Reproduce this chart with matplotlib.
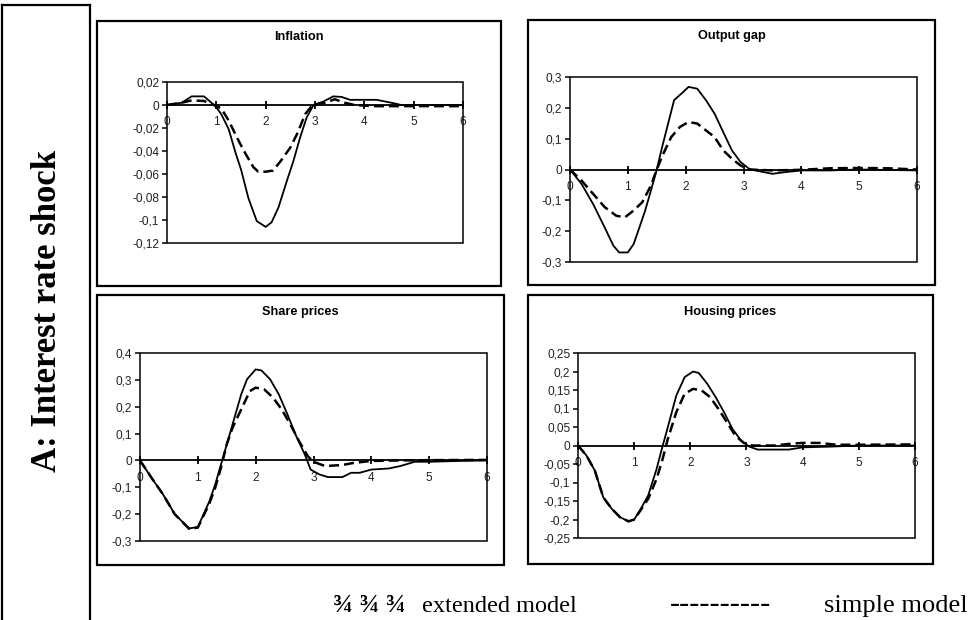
import matplotlib
matplotlib.use("Agg")
import matplotlib.pyplot as plt
from matplotlib.patches import Rectangle
from matplotlib.lines import Line2D

W, H = 970, 620

# ---------------- data ----------------
titles = ["Inflation", "Output gap", "Share prices", "Housing prices"]
x_ticks = [0, 1, 2, 3, 4, 5, 6]
x_tick_labels = ["0", "1", "2", "3", "4", "5", "6"]

infl_yticks = [0.02, 0, -0.02, -0.04, -0.06, -0.08, -0.1, -0.12]
infl_ylabels = ["0,02", "0", "-0,02", "-0,04", "-0,06", "-0,08", "-0,1", "-0,12"]
gap_yticks = [0.3, 0.2, 0.1, 0, -0.1, -0.2, -0.3]
gap_ylabels = ["0,3", "0,2", "0,1", "0", "-0,1", "-0,2", "-0,3"]
share_yticks = [0.4, 0.3, 0.2, 0.1, 0, -0.1, -0.2, -0.3]
share_ylabels = ["0,4", "0,3", "0,2", "0,1", "0", "-0,1", "-0,2", "-0,3"]
house_yticks = [0.25, 0.2, 0.15, 0.1, 0.05, 0, -0.05, -0.1, -0.15, -0.2, -0.25]
house_ylabels = ["0,25", "0,2", "0,15", "0,1", "0,05", "0", "-0,05", "-0,1",
                 "-0,15", "-0,2", "-0,25"]

infl_ext_x = [0, 0.3, 0.5, 0.75, 0.9, 1.0, 1.1, 1.25, 1.4, 1.5, 1.65, 1.82, 2.0,
              2.12, 2.26, 2.43, 2.56, 2.7, 2.83, 2.97, 3.17, 3.37, 3.54, 3.71,
              4.25, 4.6, 4.75, 5.0, 6.0]
infl_ext_y = [0, 0.002, 0.0075, 0.0075, 0.002, -0.002, -0.008, -0.021, -0.043,
              -0.056, -0.081, -0.101, -0.106, -0.102, -0.089, -0.066, -0.049,
              -0.028, -0.011, 0, 0.003, 0.0075, 0.007, 0.0045, 0.0045, 0.0015,
              0, 0, 0]
infl_sim_x = [0, 0.3, 0.5, 0.75, 0.95, 1.1, 1.25, 1.45, 1.6, 1.75, 1.85, 2.0,
              2.15, 2.3, 2.5, 2.65, 2.8, 2.95, 3.2, 3.4, 3.6, 3.8, 4.2, 5.0, 6.0]
infl_sim_y = [0, 0.002, 0.004, 0.0035, 0, -0.003, -0.0135, -0.031, -0.043,
              -0.054, -0.058, -0.058, -0.057, -0.049, -0.037, -0.024, -0.008,
              0, 0.002, 0.005, 0.002, 0, -0.001, -0.001, -0.001]

gap_ext_x = [0, 0.2, 0.4, 0.6, 0.75, 0.85, 1.0, 1.1, 1.2, 1.3, 1.4, 1.5, 1.6,
             1.8, 1.95, 2.05, 2.2, 2.35, 2.5, 2.65, 2.8, 2.95, 3.1, 3.2, 3.5,
             3.7, 4.0, 4.5, 5.0, 6.0]
gap_ext_y = [0, -0.047, -0.112, -0.188, -0.247, -0.269, -0.269, -0.242, -0.188,
             -0.133, -0.068, 0, 0.078, 0.225, 0.25, 0.268, 0.262, 0.225, 0.181,
             0.121, 0.062, 0.024, 0.002, -0.003, -0.014, -0.009, -0.003,
             -0.003, 0, -0.003]
gap_sim_x = [0, 0.2, 0.4, 0.6, 0.8, 0.95, 1.1, 1.25, 1.4, 1.5, 1.6, 1.75, 1.9,
             2.05, 2.2, 2.35, 2.5, 2.65, 2.8, 2.95, 3.1, 3.5, 4.0, 4.5, 5.0,
             5.5, 6.0]
gap_sim_y = [0, -0.036, -0.079, -0.122, -0.15, -0.155, -0.133, -0.106, -0.052,
             0, 0.046, 0.105, 0.138, 0.154, 0.149, 0.127, 0.105, 0.062, 0.035,
             0.013, 0, -0.003, -0.001, 0.004, 0.005, 0.004, 0]

share_ext_x = [0, 0.2, 0.4, 0.6, 0.75, 0.85, 1.0, 1.1, 1.2, 1.3, 1.4, 1.45,
               1.6, 1.75, 1.85, 2.0, 2.1, 2.25, 2.4, 2.55, 2.7, 2.85, 2.95,
               3.1, 3.25, 3.5, 3.65, 3.8, 4.0, 4.3, 4.5, 4.75, 5.0, 5.5, 6.0]
share_ext_y = [0, -0.065, -0.127, -0.2, -0.232, -0.253, -0.248, -0.2, -0.152,
               -0.09, -0.015, 0.022, 0.134, 0.246, 0.302, 0.339, 0.335, 0.302,
               0.246, 0.171, 0.091, 0.022, -0.034, -0.052, -0.062, -0.062,
               -0.046, -0.046, -0.034, -0.03, -0.021, -0.005, -0.005, -0.002, 0]
share_sim_x = [0, 0.2, 0.4, 0.6, 0.85, 1.0, 1.1, 1.2, 1.3, 1.4, 1.5, 1.6, 1.75,
               1.9, 2.0, 2.15, 2.3, 2.45, 2.6, 2.75, 2.9, 3.0, 3.2, 3.5, 3.7,
               4.0, 4.5, 5.0, 6.0]
share_sim_y = [0, -0.065, -0.127, -0.2, -0.255, -0.25, -0.205, -0.16, -0.102,
               -0.027, 0.06, 0.122, 0.19, 0.258, 0.271, 0.264, 0.234, 0.19,
               0.134, 0.072, 0.016, -0.005, -0.021, -0.017, -0.009, -0.002, 0,
               0.001, 0.002]

house_ext_x = [0, 0.15, 0.3, 0.45, 0.6, 0.75, 0.9, 1.0, 1.1, 1.25, 1.4, 1.5,
               1.6, 1.75, 1.9, 2.05, 2.15, 2.3, 2.45, 2.6, 2.75, 2.9, 3.05, 3.2,
               3.5, 3.75, 4.0, 4.5, 5.0, 6.0]
house_ext_y = [0, -0.027, -0.068, -0.14, -0.171, -0.194, -0.205, -0.2, -0.176,
               -0.135, -0.063, -0.005, 0.05, 0.135, 0.185, 0.2, 0.196, 0.167,
               0.131, 0.09, 0.045, 0.014, -0.003, -0.011, -0.011, -0.011,
               -0.005, -0.003, 0, 0]
house_sim_x = [0, 0.15, 0.3, 0.45, 0.6, 0.75, 0.9, 1.0, 1.1, 1.25, 1.4, 1.5,
               1.6, 1.75, 1.9, 2.05, 2.2, 2.35, 2.5, 2.65, 2.8, 2.95, 3.1, 3.5,
               3.8, 4.0, 4.3, 4.6, 5.0, 6.0]
house_sim_y = [0, -0.027, -0.068, -0.14, -0.171, -0.194, -0.205, -0.2, -0.178,
               -0.144, -0.09, -0.04, 0.018, 0.09, 0.14, 0.153, 0.149, 0.131,
               0.099, 0.063, 0.027, 0.007, 0, 0, 0.005, 0.007, 0.007, 0.002,
               0.002, 0.003]

row_label = "A: Interest rate shock"
legend_ext_sym = "\u00be \u00be \u00be"
legend_ext_txt = "extended model"
legend_sim_sym = "----------"
legend_sim_txt = "simple model"

# ---------------- layout ----------------
fig = plt.figure(figsize=(W / 100, H / 100), dpi=100)
SANS = ["Liberation Sans", "DejaVu Sans"]
SERIF = ["Liberation Serif", "DejaVu Serif"]


def fx(px):
    return px / W


def fy(py):
    return 1 - py / H


def outer_box(x0, x1, y0, y1):
    fig.add_artist(Rectangle((fx(x0), fy(y1)), fx(x1) - fx(x0), fy(y0) - fy(y1),
                             transform=fig.transFigure, fill=False,
                             lw=1.6, ec="black"))


# left label frame (open at bottom)
for xs, ys in [([2, 2], [5, 630]), ([2, 90], [5, 5]), ([90, 90], [5, 630])]:
    fig.add_artist(Line2D([fx(v) for v in xs], [fy(v) for v in ys],
                          transform=fig.transFigure, color="black", lw=1.6))
fig.text(fx(48), fy(311), row_label, rotation=90, ha="center", va="center",
         family=SERIF, fontweight="bold", fontsize=25)

panels = [
    dict(box=(97, 501, 21, 286), ax=(167, 463, 82, 243), title_y=37,
         ylim=(-0.12, 0.02), yt=infl_yticks, yl=infl_ylabels,
         ext=(infl_ext_x, infl_ext_y), sim=(infl_sim_x, infl_sim_y)),
    dict(box=(528, 935, 20, 285), ax=(570, 917, 77, 262), title_y=36,
         ylim=(-0.3, 0.3), yt=gap_yticks, yl=gap_ylabels,
         ext=(gap_ext_x, gap_ext_y), sim=(gap_sim_x, gap_sim_y)),
    dict(box=(97, 504, 295, 565), ax=(140, 487, 353, 541), title_y=312,
         ylim=(-0.3, 0.4), yt=share_yticks, yl=share_ylabels,
         ext=(share_ext_x, share_ext_y), sim=(share_sim_x, share_sim_y)),
    dict(box=(528, 933, 295, 564), ax=(578, 915, 353, 538), title_y=312,
         ylim=(-0.25, 0.25), yt=house_yticks, yl=house_ylabels,
         ext=(house_ext_x, house_ext_y), sim=(house_sim_x, house_sim_y)),
]

for title, p in zip(titles, panels):
    bx0, bx1, by0, by1 = p["box"]
    outer_box(bx0, bx1, by0, by1)
    fig.text(fx((bx0 + bx1) / 2), fy(p["title_y"]), title, ha="center",
             va="center", family=SANS, fontweight="bold", fontsize=9.2)

    x0, x1, y0, y1 = p["ax"]
    ax = fig.add_axes([fx(x0), fy(y1), fx(x1) - fx(x0), fy(y0) - fy(y1)])
    ax.set_xlim(0, 6)
    ax.set_ylim(*p["ylim"])
    for s in ["top", "right", "left"]:
        ax.spines[s].set_visible(False)
    ax.spines["bottom"].set_position(("data", 0))
    ax.spines["bottom"].set_linewidth(1.3)
    ax.add_patch(Rectangle((0, 0), 1, 1, transform=ax.transAxes, fill=False,
                           lw=1.1, ec="black", zorder=5, clip_on=False))

    ax.set_xticks(x_ticks)
    ax.set_xticklabels(x_tick_labels, family=SANS, fontsize=8.6, color="#222222")
    ax.tick_params(axis="x", direction="inout", length=6, width=1.3, pad=5)
    ax.set_yticks(p["yt"])
    ax.set_yticklabels(p["yl"], family=SANS, fontsize=8.6, color="#222222")
    ax.tick_params(axis="y", direction="out", length=3.5, width=1.1, pad=2)

    ax.plot(p["ext"][0], p["ext"][1], color="black", lw=1.3, zorder=4)
    ax.plot(p["sim"][0], p["sim"][1], color="black", lw=1.8,
            linestyle=(0, (4, 2)), zorder=4)
    ax.patch.set_alpha(0)

# legend
fig.text(fx(333), fy(606), legend_ext_sym, ha="left", va="center",
         family=SERIF, fontweight="bold", fontsize=19)
fig.text(fx(422), fy(606), legend_ext_txt, ha="left", va="center",
         family=SERIF, fontsize=17.5)
fig.text(fx(670), fy(605), legend_sim_sym, ha="left", va="center",
         family=SERIF, fontsize=22)
fig.text(fx(968), fy(606), legend_sim_txt, ha="right", va="center",
         family=SERIF, fontsize=19)

fig.savefig("out.png", dpi=100)
